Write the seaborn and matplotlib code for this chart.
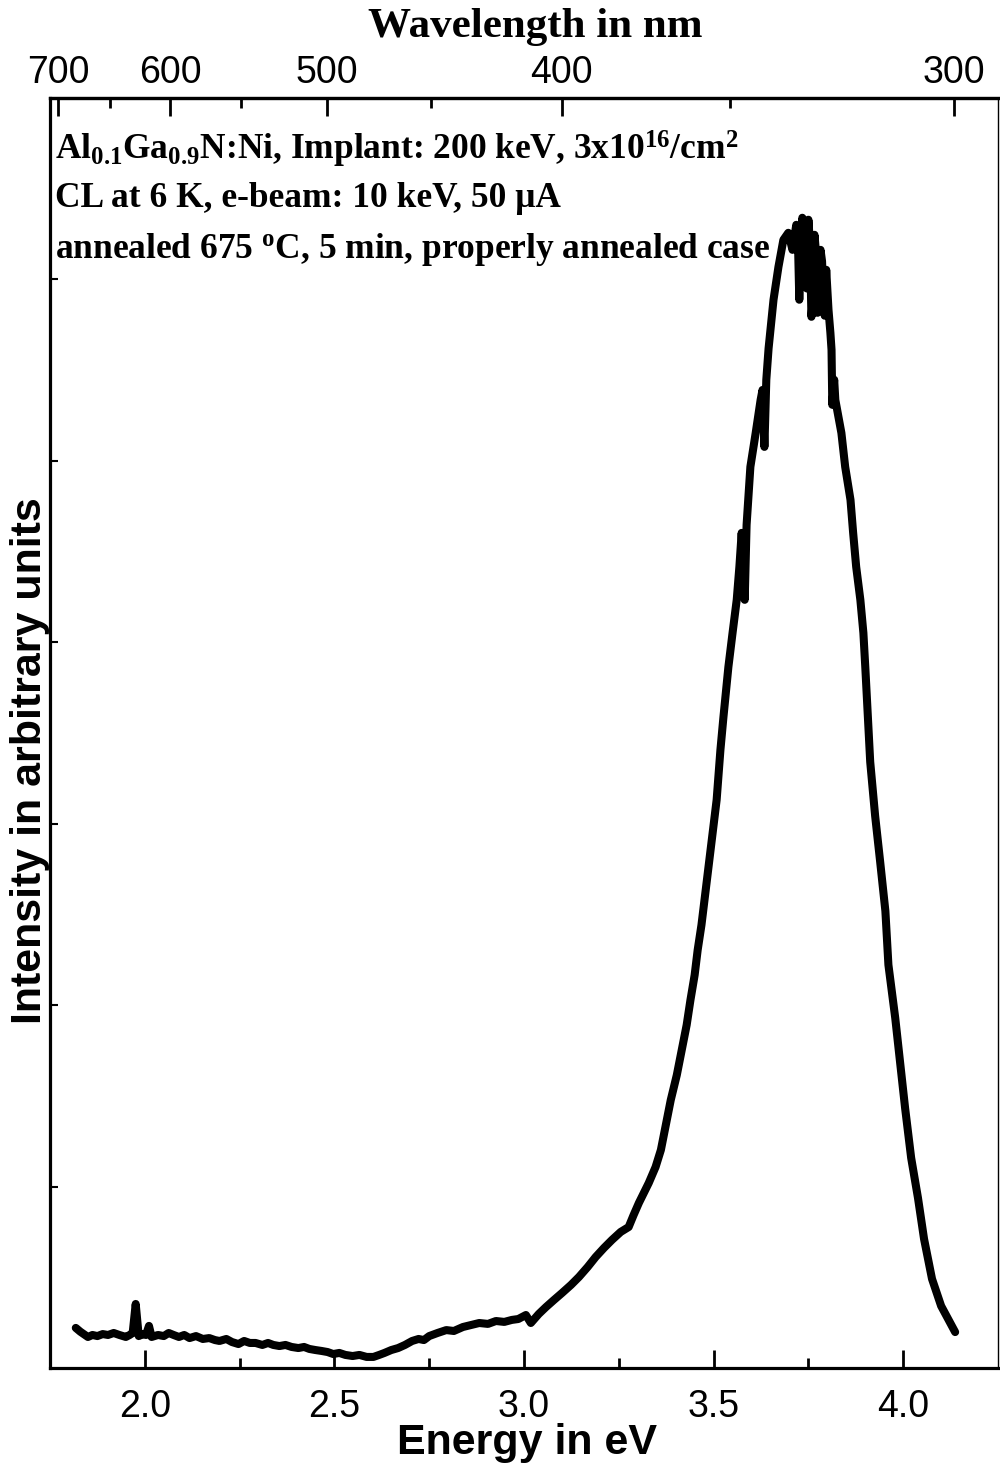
import matplotlib
matplotlib.use("Agg")
import matplotlib.pyplot as plt
import seaborn as sns
import pandas as pd

# Cathodoluminescence spectrum (energy in eV, intensity in arbitrary units)
energy_ev = [
    1.818, 1.830, 1.850, 1.862, 1.875, 1.889, 1.903, 1.918, 1.933, 1.950,
    1.960, 1.968, 1.976, 1.984, 1.995, 2.003, 2.011, 2.018, 2.035, 2.050,
    2.063, 2.076, 2.090, 2.104, 2.118, 2.135, 2.153, 2.170, 2.185, 2.197,
    2.215, 2.230, 2.247, 2.262, 2.277, 2.292, 2.310, 2.325, 2.339, 2.355,
    2.371, 2.387, 2.405, 2.420, 2.434, 2.450, 2.466, 2.482, 2.497, 2.513,
    2.529, 2.548, 2.566, 2.585, 2.603, 2.618, 2.632, 2.650, 2.668, 2.686,
    2.705, 2.722, 2.736, 2.750, 2.772, 2.795, 2.815, 2.839, 2.860, 2.882,
    2.905, 2.926, 2.948, 2.968, 2.985, 3.005, 3.018, 3.039, 3.058, 3.079,
    3.100, 3.124, 3.145, 3.168, 3.189, 3.211, 3.232, 3.255, 3.276, 3.289,
    3.303, 3.316, 3.329, 3.347, 3.361, 3.374, 3.387, 3.403, 3.416, 3.429,
    3.439, 3.450, 3.458, 3.468, 3.476, 3.484, 3.492, 3.500, 3.508, 3.513,
    3.518, 3.526, 3.539, 3.550, 3.561, 3.568, 3.574, 3.582, 3.587, 3.597,
    3.611, 3.624, 3.629, 3.634, 3.639, 3.645, 3.658, 3.671, 3.684, 3.697,
    3.708, 3.718, 3.722, 3.726, 3.730, 3.734, 3.738, 3.742, 3.746, 3.750,
    3.754, 3.758, 3.762, 3.766, 3.770, 3.774, 3.778, 3.782, 3.786, 3.789,
    3.793, 3.797, 3.803, 3.808, 3.811, 3.813, 3.818, 3.821, 3.837, 3.847,
    3.861, 3.868, 3.876, 3.887, 3.895, 3.900, 3.905, 3.913, 3.926, 3.939,
    3.953, 3.961, 3.979, 3.992, 4.005, 4.021, 4.039, 4.055, 4.076, 4.100,
    4.137,
]
intensity = [
    0.221, 0.200, 0.171, 0.182, 0.176, 0.187, 0.182, 0.193, 0.182, 0.171,
    0.182, 0.193, 0.353, 0.176, 0.187, 0.182, 0.232, 0.171, 0.182, 0.176,
    0.193, 0.182, 0.171, 0.182, 0.165, 0.176, 0.160, 0.165, 0.154, 0.149,
    0.160, 0.143, 0.132, 0.149, 0.138, 0.138, 0.127, 0.138, 0.127, 0.121,
    0.127, 0.116, 0.110, 0.116, 0.105, 0.099, 0.094, 0.088, 0.077, 0.083,
    0.072, 0.066, 0.072, 0.061, 0.061, 0.072, 0.083, 0.099, 0.110, 0.127,
    0.149, 0.160, 0.154, 0.176, 0.193, 0.209, 0.204, 0.226, 0.237, 0.248,
    0.243, 0.259, 0.254, 0.265, 0.270, 0.292, 0.248, 0.298, 0.336, 0.375,
    0.413, 0.458, 0.502, 0.557, 0.612, 0.662, 0.706, 0.750, 0.777, 0.843,
    0.910, 0.965, 1.020, 1.108, 1.202, 1.340, 1.477, 1.615, 1.753, 1.891,
    2.029, 2.166, 2.304, 2.442, 2.580, 2.718, 2.856, 2.993, 3.131, 3.269,
    3.407, 3.589, 3.864, 4.052, 4.234, 4.416, 4.603, 4.234, 4.647, 4.967,
    5.154, 5.336, 5.391, 5.077, 5.447, 5.620, 5.888, 6.069, 6.218, 6.257,
    6.163, 6.301, 6.250, 5.888, 6.200, 6.340, 6.300, 6.108, 5.950, 6.329,
    6.200, 5.794, 5.900, 6.246, 6.150, 5.816, 5.950, 6.163, 6.100, 5.943,
    5.800, 6.053, 5.832, 5.706, 5.612, 5.309, 5.447, 5.336, 5.154, 4.967,
    4.785, 4.603, 4.416, 4.234, 4.052, 3.864, 3.660, 3.341, 3.043, 2.795,
    2.519, 2.222, 1.929, 1.681, 1.433, 1.158, 0.937, 0.711, 0.491, 0.342,
    0.198,
]

energy_ticks = [2.0, 2.5, 3.0, 3.5, 4.0]
energy_minor = [2.25, 2.75, 3.25, 3.75]
wavelength_ticks = [700, 600, 500, 400, 300]
wavelength_minor = [650, 550, 450, 350]
intensity_ticks = [1, 2, 3, 4, 5, 6]

HC = 1239.84  # eV nm

sns.set_style("ticks")
plt.rcParams["font.family"] = ["Liberation Sans", "DejaVu Sans"]
for key in ["text.color", "axes.labelcolor", "xtick.color", "ytick.color",
            "axes.edgecolor"]:
    plt.rcParams[key] = "black"
plt.rcParams["mathtext.fontset"] = "custom"
plt.rcParams["mathtext.rm"] = "Liberation Serif:bold"
plt.rcParams["mathtext.it"] = "Liberation Serif:bold"
plt.rcParams["mathtext.bf"] = "Liberation Serif:bold"
plt.rcParams["mathtext.default"] = "rm"

fig = plt.figure(figsize=(10, 14.69), dpi=100)
ax = fig.add_axes([0.05, 1 - 1368 / 1469, 0.948, 1270 / 1469])

df = pd.DataFrame({"Energy": energy_ev, "Intensity": intensity})
sns.lineplot(data=df, x="Energy", y="Intensity", sort=False, estimator=None,
             color="black", linewidth=5.8, ax=ax,
             solid_joinstyle="round", solid_capstyle="round")

ax.set_xlim(1.75, 4.25)
ax.set_ylim(0, 7)

for side in ["left", "right", "top", "bottom"]:
    ax.spines[side].set_visible(True)
    ax.spines[side].set_linewidth(2.3)
    ax.spines[side].set_color("black")
ax.spines["right"].set_linewidth(1.0)

ax.set_xticks(energy_ticks)
ax.set_xticks(energy_minor, minor=True)
ax.set_xticklabels([f"{t:.1f}" for t in energy_ticks])
ax.set_yticks(intensity_ticks)
ax.set_yticklabels([])
ax.tick_params(axis="x", which="major", direction="in", length=13, width=2,
               pad=15, labelsize=27, top=False, color="black")
ax.tick_params(axis="x", which="minor", direction="in", length=7, width=2,
               top=False)
ax.tick_params(axis="y", which="major", direction="in", length=6, width=1.5,
               right=False, left=True)

ax.set_xlabel("Energy in eV", fontsize=31, fontweight="bold", va="center")
ax.xaxis.set_label_coords(0.503, -0.059)
ax.set_ylabel("Intensity in arbitrary units", fontsize=31, fontweight="bold",
              va="center")
ax.yaxis.set_label_coords(-0.021, 0.478)

# Wavelength scale on top
top = ax.secondary_xaxis("top", functions=(lambda e: HC / e, lambda w: HC / w))
top.set_xticks(wavelength_ticks)
top.set_xticks(wavelength_minor, minor=True)
top.set_xticklabels([str(w) for w in wavelength_ticks])
top.tick_params(axis="x", which="major", direction="in", length=13, width=2,
                pad=5, labelsize=27)
top.tick_params(axis="x", which="minor", direction="in", length=7, width=2)
top.spines["top"].set_linewidth(2.3)

serif = ["Liberation Serif", "DejaVu Serif"]
fig.text(0.535, 1 - 27 / 1469, "Wavelength in nm", fontsize=31,
         fontweight="bold", family=serif, ha="center", va="center")

lines = [
    (0.951, r"Al$_{0.1}$Ga$_{0.9}$N:Ni, Implant: 200 keV, 3x10$^{16}$/cm$^{2}$"),
    (0.914, "CL at 6 K, e-beam: 10 keV, 50 \u03bcA"),
    (0.874, r"annealed 675 $^{\mathrm{o}}$C, 5 min, properly annealed case"),
]
for y, s in lines:
    ax.text(0.005, y, s, transform=ax.transAxes, fontsize=25.5,
            fontweight="bold", family=serif, va="baseline", ha="left")

fig.savefig("out.png", dpi=100, facecolor="white")
